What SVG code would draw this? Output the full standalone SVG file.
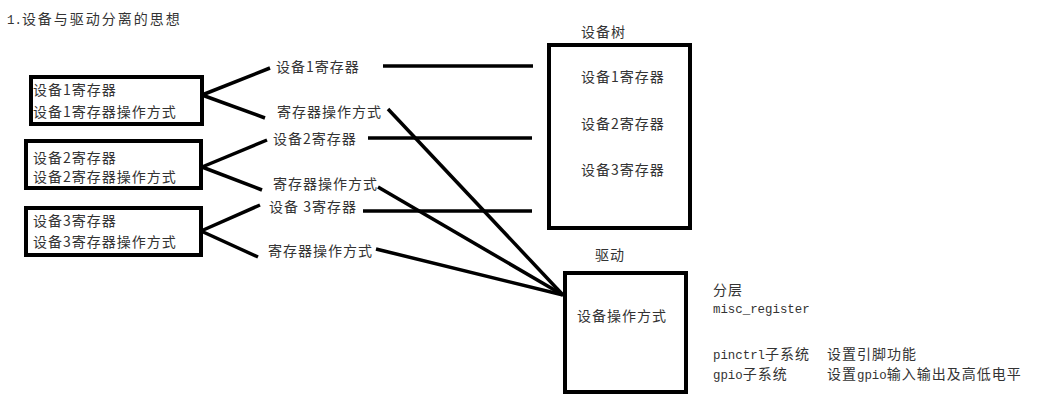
<svg xmlns="http://www.w3.org/2000/svg" width="1041" height="408" viewBox="0 0 1041 408">
<style>
.bg{fill:#fff}
.box{fill:#fff;stroke:#000;stroke-width:4}
.ln{stroke:#000;stroke-width:3.5;stroke-linecap:butt;fill:none}
.t{font-family:"Noto Sans CJK SC","Liberation Sans",sans-serif;font-size:14px;letter-spacing:1px;fill:#333}
.ti{letter-spacing:2px}
.m{font-family:"Liberation Mono","Noto Sans CJK SC",monospace;font-size:12.4px;letter-spacing:0}
</style>
<rect class="bg" x="0" y="0" width="1041" height="408"/>
<text class="t ti" x="7" y="24"><tspan class="m">1.</tspan>设备与驱动分离的思想</text>

<g id="connectors">
<line class="ln" x1="202" y1="95" x2="270" y2="68"/>
<line class="ln" x1="202" y1="95" x2="265" y2="118"/>
<line class="ln" x1="202" y1="167" x2="267" y2="140"/>
<line class="ln" x1="202" y1="167" x2="262" y2="190"/>
<line class="ln" x1="201" y1="231" x2="260" y2="205"/>
<line class="ln" x1="201" y1="231" x2="258" y2="257"/>
<line class="ln" x1="383" y1="66" x2="533" y2="66"/>
<line class="ln" x1="368" y1="138" x2="532" y2="138"/>
<line class="ln" x1="363" y1="211" x2="532" y2="211"/>
<line class="ln" x1="388" y1="109" x2="563" y2="295"/>
<line class="ln" x1="378" y1="187" x2="563" y2="295"/>
<line class="ln" x1="376" y1="249" x2="563" y2="295"/>
</g>

<g id="dev1">
<rect class="box" x="31" y="77" width="171" height="47"/>
<text class="t" x="33" y="95">设备1寄存器</text>
<text class="t" x="33" y="117">设备1寄存器操作方式</text>
</g>
<g id="dev2">
<rect class="box" x="26" y="141" width="175" height="47"/>
<text class="t" x="33" y="163">设备2寄存器</text>
<text class="t" x="33" y="182">设备2寄存器操作方式</text>
</g>
<g id="dev3">
<rect class="box" x="26" y="208" width="175" height="47"/>
<text class="t" x="33" y="226">设备3寄存器</text>
<text class="t" x="33" y="247">设备3寄存器操作方式</text>
</g>

<g id="labels">
<text class="t" x="276" y="72">设备1寄存器</text>
<text class="t" x="277" y="117">寄存器操作方式</text>
<text class="t" x="273" y="144">设备2寄存器</text>
<text class="t" x="273" y="189">寄存器操作方式</text>
<text class="t" x="269" y="212">设备 3寄存器</text>
<text class="t" x="268" y="256">寄存器操作方式</text>
</g>

<g id="devtree">
<text class="t" x="581" y="37">设备树</text>
<rect class="box" x="549" y="45" width="141" height="183"/>
<text class="t" x="581" y="82">设备1寄存器</text>
<text class="t" x="581" y="129">设备2寄存器</text>
<text class="t" x="581" y="175">设备3寄存器</text>
</g>

<g id="driver">
<text class="t" x="595" y="260">驱动</text>
<rect class="box" x="565" y="273" width="121" height="119"/>
<text class="t" x="577" y="321">设备操作方式</text>
</g>

<g id="notes">
<text class="t" x="713" y="295">分层</text>
<text class="t m" x="713" y="313">misc_register</text>
<text class="t" x="713" y="359"><tspan class="m">pinctrl</tspan>子系统</text>
<text class="t" x="827" y="359">设置引脚功能</text>
<text class="t" x="713" y="379"><tspan class="m">gpio</tspan>子系统</text>
<text class="t" x="827" y="379">设置<tspan class="m">gpio</tspan>输入输出及高低电平</text>
</g>
</svg>
